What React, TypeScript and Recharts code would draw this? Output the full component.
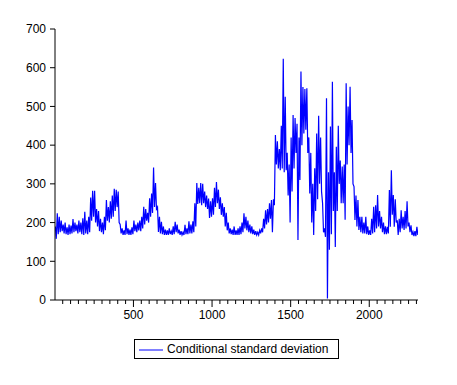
import React from "react";
import { LineChart, Line, XAxis, YAxis, Legend } from "recharts";

// envelope of the series, read in blocks of 12.5 observations (high, then low)
const SEG = 12.5;
const LAST = 2310;

const highs = [
  190, 224, 215, 205, 195, 200, 188, 195, 192, 209,
  200, 195, 205, 200, 211, 228, 205, 215, 265, 282,
  282, 235, 230, 210, 200, 215, 258, 240, 255, 270,
  287, 285, 280, 195, 185, 180, 205, 185, 182, 188,
  205, 195, 200, 205, 215, 241, 235, 225, 263, 275,
  342, 302, 240, 215, 202, 190, 182, 180, 185, 178,
  190, 202, 195, 182, 178, 175, 194, 185, 203, 195,
  203, 250, 302, 290, 302, 300, 280, 270, 262, 255,
  263, 290, 305, 285, 265, 250, 240, 225, 200, 185,
  182, 190, 180, 185, 190, 200, 224, 215, 205, 195,
  190, 182, 178, 175, 180, 185, 210, 232, 235, 250,
  258, 260, 426, 410, 390, 450, 623, 525, 380, 350,
  420, 478, 470, 455, 420, 590, 550, 545, 547, 420,
  380, 300, 340, 430, 476, 420, 250, 185, 521, 330,
  448, 564, 330, 396, 450, 360, 345, 350, 560, 500,
  551, 465, 293, 270, 258, 215, 215, 200, 215, 190,
  180, 210, 241, 245, 271, 230, 215, 200, 190, 189,
  284, 335, 271, 260, 206, 210, 232, 215, 230, 255,
  200, 193, 176, 178, 189,
];

const lows = [
  158, 170, 175, 178, 172, 170, 168, 170, 172, 175,
  178, 172, 175, 170, 168, 172, 170, 175, 205, 215,
  200, 190, 178, 175, 170, 180, 205, 200, 210, 215,
  230, 240, 200, 172, 168, 168, 170, 168, 168, 170,
  178, 175, 180, 178, 185, 195, 205, 200, 215, 225,
  240, 235, 176, 172, 170, 168, 168, 168, 170, 168,
  170, 175, 172, 168, 168, 168, 170, 170, 172, 172,
  175, 190, 248, 250, 245, 250, 240, 235, 212, 215,
  220, 240, 250, 235, 220, 215, 190, 180, 172, 170,
  168, 168, 168, 168, 170, 175, 185, 180, 175, 172,
  170, 168, 168, 168, 172, 175, 185, 195, 200, 210,
  175, 245, 350, 340, 335, 340, 330, 335, 270, 200,
  280, 340, 380, 155, 310, 400, 430, 440, 380, 275,
  200, 168, 230, 260, 300, 280, 175, 163, 4, 130,
  170, 230, 137, 230, 300, 250, 250, 207, 350, 400,
  380, 300, 207, 190, 181, 175, 172, 172, 170, 168,
  168, 172, 175, 185, 190, 185, 175, 170, 170, 172,
  189, 220, 189, 200, 168, 175, 185, 181, 185, 190,
  175, 168, 165, 165, 168,
];

const majorTicks = [500, 1000, 1500, 2000];
const yTicks = [0, 100, 200, 300, 400, 500, 600, 700];
const legendLabel = "Conditional standard deviation";

const data: { t: number; v: number }[] = [];
highs.forEach((h, i) => {
  data.push({ t: Math.min(i * SEG + 3, LAST), v: h });
  data.push({ t: Math.min(i * SEG + 9, LAST), v: lows[i] });
});

const xTicks = Array.from({ length: 46 }, (_, i) => (i + 1) * 50);

const FONT = "'Liberation Sans', Arial, sans-serif";

function XTick(props: any) {
  const { x, y, payload } = props;
  const major = majorTicks.includes(payload.value);
  return (
    <g>
      <line x1={x} y1={y} x2={x} y2={y + (major ? 7 : 4)} stroke="#000" />
      {major && (
        <text x={x} y={y + 19} textAnchor="middle" fontSize={12} fontFamily={FONT} fill="#000">
          {payload.value}
        </text>
      )}
    </g>
  );
}

function LegendBox() {
  return (
    <div
      style={{
        width: 203,
        height: 18,
        border: "1px solid #000",
        background: "#fff",
        fontFamily: FONT,
        fontSize: 12,
        display: "flex",
        alignItems: "center",
      }}
    >
      <svg width={32} height={18}>
        <line x1={4} y1={10} x2={28} y2={10} stroke="#0000ff" />
      </svg>
      <span>{legendLabel}</span>
    </div>
  );
}

export default function App() {
  return (
    <div style={{ position: "absolute", left: 0, top: 0, background: "#fff" }}>
      <LineChart
        width={457}
        height={385}
        data={data}
        margin={{ top: 29, right: 39, bottom: 0, left: 0 }}
      >
        <XAxis
          dataKey="t"
          type="number"
          domain={[1, LAST]}
          allowDataOverflow
          ticks={xTicks}
          interval={0}
          tickSize={0}
          tickMargin={0}
          tickLine={false}
          tick={<XTick />}
          height={85}
          axisLine={{ stroke: "#000" }}
        />
        <XAxis
          xAxisId="top"
          orientation="top"
          dataKey="t"
          type="number"
          domain={[1, LAST]}
          height={0}
          tick={false}
          tickLine={false}
          axisLine={{ stroke: "#000" }}
        />
        <YAxis
          domain={[0, 700]}
          ticks={yTicks}
          interval={0}
          width={55}
          tickSize={5}
          tickMargin={4}
          tickLine={{ stroke: "#000" }}
          axisLine={{ stroke: "#000" }}
          tick={{ fill: "#000", fontSize: 12, fontFamily: FONT }}
        />
        <YAxis
          yAxisId="right"
          orientation="right"
          domain={[0, 700]}
          width={0}
          tick={false}
          tickLine={false}
          axisLine={{ stroke: "#000" }}
        />
        <Legend
          layout="horizontal"
          verticalAlign="middle"
          align="center"
          wrapperStyle={{ top: 339, left: 134, width: "auto" }}
          content={<LegendBox />}
        />
        <Line
          type="linear"
          dataKey="v"
          stroke="#0000ff"
          strokeWidth={1.2}
          dot={false}
          isAnimationActive={false}
        />
      </LineChart>
    </div>
  );
}
